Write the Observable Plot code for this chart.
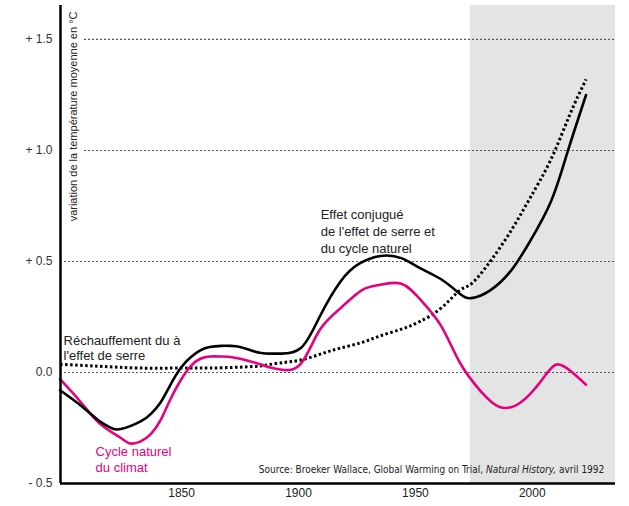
<!DOCTYPE html>
<html>
<head>
<meta charset="utf-8">
<script src="https://cdn.jsdelivr.net/npm/d3@7"></script>
<script src="https://cdn.jsdelivr.net/npm/@observablehq/plot@0.6"></script>
<style>
  html, body { margin: 0; padding: 0; background: white; }
  svg { display: block; }
</style>
</head>
<body>
<div id="chart"></div>
<script>
// Effet conjugué (black solid)
const conjYears  = [1798, 1807, 1815, 1820, 1824, 1832.5, 1837, 1841, 1845, 1849.6, 1854, 1858, 1862, 1867, 1871, 1875, 1879.5, 1884, 1888, 1892, 1901, 1909, 1918, 1926, 1935, 1944, 1952, 1961, 1969, 1974, 1982, 1991, 1999, 2008, 2015, 2023];
const conjValues = [-0.08, -0.15, -0.22, -0.25, -0.255, -0.22, -0.185, -0.135, -0.06, 0.02, 0.07, 0.10, 0.115, 0.12, 0.12, 0.115, 0.10, 0.088, 0.085, 0.085, 0.11, 0.25, 0.41, 0.49, 0.525, 0.515, 0.47, 0.42, 0.355, 0.335, 0.37, 0.46, 0.59, 0.77, 0.99, 1.25];

// Cycle naturel du climat (magenta)
const cycleYears  = [1798, 1807, 1815, 1824, 1828, 1832.5, 1837, 1841, 1845, 1849.6, 1854, 1858, 1862, 1867, 1871, 1875, 1879.5, 1884, 1888, 1893, 1901, 1909, 1918, 1927, 1935, 1944, 1952, 1961, 1969, 1978, 1986, 1995, 2004, 2010, 2016, 2023];
const cycleValues = [-0.03, -0.135, -0.23, -0.295, -0.32, -0.31, -0.275, -0.215, -0.125, -0.035, 0.03, 0.062, 0.072, 0.072, 0.07, 0.062, 0.05, 0.036, 0.022, 0.012, 0.04, 0.19, 0.29, 0.37, 0.395, 0.40, 0.33, 0.21, 0.045, -0.085, -0.155, -0.135, -0.035, 0.035, 0.01, -0.055];

// Réchauffement dû à l'effet de serre (black dotted)
const serreYears  = [1798, 1815, 1832, 1850, 1862, 1875, 1884, 1892, 1901, 1910, 1918, 1927, 1935, 1944, 1952, 1961, 1969, 1974, 1982, 1991, 1999, 2008, 2016, 2023];
const serreValues = [0.037, 0.028, 0.02, 0.02, 0.02, 0.024, 0.03, 0.043, 0.056, 0.085, 0.11, 0.135, 0.165, 0.195, 0.23, 0.29, 0.37, 0.40, 0.50, 0.64, 0.785, 0.96, 1.16, 1.32];

// Projection period (grey band)
const shadedPeriod = [[1973.6, 2035.6]];

const xTicks = [1850, 1900, 1950, 2000];
const yTicks = [-0.5, 0, 0.5, 1.0, 1.5];
const yTickLabels = ["- 0.5", "0.0", "+ 0.5", "+ 1.0", "+ 1.5"];
const gridLow = [0, 0.5];
const gridHigh = [1.0, 1.5];

const yAxisLabel = "variation de la température moyenne en °C";
const conjLabel = "Effet conjugué\nde l'effet de serre et\ndu cycle naturel";
const serreLabel = "Réchauffement du à\nl'effet de serre";
const cycleLabel = "Cycle naturel\ndu climat";
const sourceParts = ["Source: Broeker Wallace, Global Warming on Trial, ", "Natural History,", " avril 1992"];

const toRows = (xs, ys) => xs.map((x, i) => ({x, y: ys[i]}));
const conj = toRows(conjYears, conjValues);
const cycle = toRows(cycleYears, cycleValues);
const serre = toRows(serreYears, serreValues);

const font = "'Liberation Sans', Arial, sans-serif";
const gridStyle = {stroke: "#555", strokeWidth: 1.2, strokeDasharray: "2,2"};

const svg = Plot.plot({
  width: 629,
  height: 506,
  marginLeft: 60,
  marginRight: 14,
  marginTop: 5,
  marginBottom: 23,
  style: {fontFamily: font, fontSize: "12px", color: "#222", background: "white", overflow: "visible"},
  x: {domain: [1798.2, 2035.6]},
  y: {domain: [-0.5, 1.653]},
  marks: [
    Plot.rect(shadedPeriod, {x1: d => d[0], x2: d => d[1], fill: "#e4e4e4"}),
    Plot.ruleY(gridLow, gridStyle),
    Plot.ruleY(gridHigh, {...gridStyle, x1: 1808.5, x2: 2035.6}),
    Plot.axisX({ticks: xTicks, tickFormat: d => String(d), tickSize: 0, tickPadding: 5, label: null, fontSize: 12, fill: "#222"}),
    Plot.axisY({ticks: yTicks, tickFormat: d => yTickLabels[yTicks.indexOf(d)], tickSize: 0, tickPadding: 8, label: null, fontSize: 12, fill: "#333"}),
    Plot.line(serre, {x: "x", y: "y", curve: "natural", stroke: "black", strokeWidth: 3, strokeLinecap: "butt", strokeDasharray: "2.5,2.5"}),
    Plot.line(cycle, {x: "x", y: "y", curve: "natural", stroke: "#e6007e", strokeWidth: 2.6}),
    Plot.line(conj, {x: "x", y: "y", curve: "natural", stroke: "black", strokeWidth: 2.6}),
    Plot.ruleX([1798.2], {stroke: "black", strokeWidth: 2.5}),
    Plot.ruleY([-0.5], {stroke: "black", strokeWidth: 2.5}),
    Plot.text([yAxisLabel], {frameAnchor: "top-left", rotate: -90, textAnchor: "end", dx: 9, dy: 6, fontSize: 11, fill: "#222"}),
    Plot.text([conjLabel], {x: 1909.5, y: 0.64, textAnchor: "start", lineAnchor: "middle", lineHeight: 1.3, fontSize: 13, fill: "#222"}),
    Plot.text([serreLabel], {x: 1799.5, y: 0.113, textAnchor: "start", lineAnchor: "middle", lineHeight: 1.2, fontSize: 13, fill: "#222"}),
    Plot.text([cycleLabel], {x: 1813.2, y: -0.39, textAnchor: "start", lineAnchor: "middle", lineHeight: 1.25, fontSize: 13, fill: "#e6007e"}),
    Plot.text([sourceParts.join("")], {x: 1883, y: -0.44, textAnchor: "start", lineAnchor: "middle", fontSize: 10, fill: "#222", fontFamily: "'Liberation Sans Narrow', 'DejaVu Sans Condensed', sans-serif"})
  ]
});

// italicise the journal name inside the source line
d3.select(svg).selectAll("text")
  .filter(function() { return this.textContent.startsWith("Source:"); })
  .each(function() {
    const t = d3.select(this);
    const target = t.select("tspan").empty() ? t : t.select("tspan");
    target.text(null);
    sourceParts.forEach((p, i) => {
      target.append("tspan").attr("font-style", i === 1 ? "italic" : null).text(p);
    });
  });

document.getElementById("chart").appendChild(svg);
</script>
</body>
</html>
